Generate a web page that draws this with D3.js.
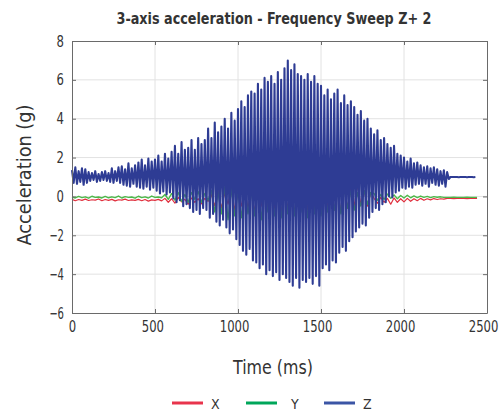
<!DOCTYPE html>
<html>
<head>
<meta charset="utf-8">
<script src="https://cdn.jsdelivr.net/npm/d3@7"></script>
<style>
  body { margin: 0; background: #fff; }
  text { font-family: "DejaVu Sans Condensed", "Roboto", sans-serif; }
</style>
</head>
<body>
<div id="plot"></div>
<script>
// sample steps (ms)
const zStep = 10;
const xyStep = 20;

// Z axis peaks, alternating high / low (10 ms apart)
const zValues = [
  1.35,0.7,1.5,0.65,1.3,0.75,1.45,0.6,1.4,0.7,
  1.25,0.8,1.2,0.85,1.3,0.75,1.15,0.8,1.25,0.85,
  1.3,0.8,1.2,0.75,1.45,0.7,1.3,0.8,1.5,0.7,
  1.55,0.6,1.4,0.55,1.7,0.5,1.45,0.65,1.6,0.5,
  1.75,0.45,1.9,0.4,1.6,0.5,1.95,0.35,1.8,0.45,
  1.9,0.3,2.1,0.15,1.8,0.25,2.2,0.1,1.95,0.2,
  2.3,-0.1,2.6,-0.3,2.2,-0.2,2.8,-0.5,2.4,-0.4,
  2.5,-0.6,2.9,-0.8,2.4,-0.7,3.0,-0.9,2.7,-0.6,
  2.9,-0.7,3.5,-1.1,3.0,-0.9,3.8,-1.3,3.3,-1.5,
  3.6,-1.2,4.0,-1.6,3.5,-1.9,4.3,-1.7,3.9,-2.2,
  4.5,-2.5,4.9,-2.8,4.6,-3.0,5.2,-2.7,5.4,-3.3,
  5.3,-3.4,5.8,-3.7,5.5,-3.5,6.1,-4.0,5.9,-3.8,
  6.2,-4.1,5.8,-3.9,6.4,-4.3,6.0,-4.0,6.6,-4.2,
  7.0,-4.4,6.5,-4.6,6.8,-4.2,6.3,-4.7,6.2,-4.3,
  6.0,-4.4,6.3,-4.2,5.9,-4.5,6.2,-4.1,5.8,-4.6,
  5.7,-3.7,5.2,-3.5,5.5,-3.8,5.0,-3.3,5.3,-3.4,
  5.5,-2.9,4.8,-2.6,5.2,-2.8,4.7,-2.3,4.9,-2.1,
  4.6,-1.8,4.2,-1.6,4.4,-1.4,3.9,-1.5,4.0,-1.1,
  3.5,-0.8,3.2,-0.6,3.4,-0.7,2.9,-0.4,3.0,-0.3,
  2.7,0.0,2.5,-0.05,2.6,0.2,2.2,0.3,2.1,0.45,
  2.0,0.4,1.8,0.5,1.95,0.45,1.7,0.6,1.75,0.65,
  1.6,0.55,1.5,0.65,1.55,0.5,1.45,0.7,1.5,0.6,
  1.4,0.55,1.3,0.65,1.35,0.5,1.25,0.9,1.0,1.0,
  1.0,1.0,1.0,0.99,1.0,1.0,1.0,1.0,0.99,1.0,
  1.0,1.0,0.99,1.0
];

// X axis (20 ms apart)
const xValues = [
  -0.15,-0.22,-0.16,-0.2,-0.14,-0.21,-0.17,-0.19,-0.13,-0.22,
  -0.16,-0.2,-0.15,-0.23,-0.17,-0.19,-0.14,-0.21,-0.18,-0.2,
  -0.15,-0.22,-0.16,-0.24,-0.18,-0.2,-0.15,-0.23,
  -0.1,-0.3,-0.12,-0.35,-0.05,-0.28,-0.15,-0.4,-0.08,-0.3,-0.12,-0.38,-0.1,-0.25,
  0.1,-0.5,0.3,-0.6,0.2,-0.4,0.5,-0.7,0.2,-0.5,
  0.4,-0.6,0.3,-0.8,0.6,-0.5,1.0,-0.7,0.4,-0.6,
  0.5,-0.8,0.3,-0.6,0.7,-0.9,0.4,-0.5,0.6,-0.7,
  0.3,-0.6,0.5,-0.8,1.2,-0.6,0.4,-0.7,0.3,-0.8,
  0.5,-0.6,0.4,-0.5,0.6,-0.4,0.3,-0.5,0.2,
  -0.1,-0.35,-0.05,-0.3,-0.1,-0.4,-0.08,-0.3,-0.12,-0.28,-0.1,
  -0.25,-0.12,-0.22,-0.1,-0.2,-0.12,-0.18,-0.11,-0.16,-0.12,-0.14,
  -0.1,-0.1,-0.11,-0.1,-0.1,-0.1,-0.11,-0.1,-0.1,-0.1
];

// Y axis (20 ms apart)
const yValues = [
  -0.03,-0.08,0.0,-0.06,-0.02,-0.09,0.01,-0.05,-0.03,-0.08,
  0.0,-0.07,-0.02,-0.06,0.02,-0.08,-0.01,-0.05,-0.03,-0.09,
  0.01,-0.06,-0.02,-0.08,0.02,-0.05,-0.03,-0.07,
  0.1,-0.15,0.15,-0.2,0.2,-0.25,0.1,-0.3,0.2,-0.15,0.25,-0.3,0.15,-0.2,
  0.3,-0.8,0.2,-0.9,0.5,-1.2,0.4,-1.0,0.3,-1.1,
  0.5,-0.9,0.3,-1.0,0.6,-1.2,0.4,-0.8,0.3,-1.0,
  0.5,-1.1,0.4,-0.9,1.3,-1.0,0.3,-0.8,0.5,-1.1,
  0.4,-0.9,0.6,-1.0,0.3,-0.8,0.5,-0.7,0.3,-0.9,
  0.4,-0.6,0.3,-0.7,0.2,-0.5,0.3,-0.4,0.2,
  0.15,-0.2,0.1,-0.15,0.12,-0.1,0.08,-0.12,0.05,-0.08,0.06,
  -0.07,0.03,-0.06,0.02,-0.05,0.0,-0.06,-0.01,-0.04,-0.02,-0.05,
  -0.05,-0.05,-0.04,-0.05,-0.05,-0.05,-0.04,-0.05,-0.05,-0.05
];

const xTicks = [0, 500, 1000, 1500, 2000, 2500];
const yTicks = [-6, -4, -2, 0, 2, 4, 6, 8];
const seriesNames = ["X", "Y", "Z"];
const lineColors = {X: "#e0303e", Y: "#4cb848", Z: "#2e3c94"};
const legendColors = {X: "#e8344c", Y: "#00a65a", Z: "#3b55a5"};

// canvas
const width = 502;
const height = 411;
const margin = {top: 41, right: 15, bottom: 98, left: 72};

const svg = d3.select("#plot").append("svg")
    .attr("width", width)
    .attr("height", height);

// scales
const xScale = d3.scaleLinear().domain([0, 2500]).range([margin.left, width - margin.right]);
const yScale = d3.scaleLinear().domain([-6, 8]).range([height - margin.bottom, margin.top]);

// grid
svg.append("g").selectAll("line").data(xTicks.slice(1, -1)).enter().append("line")
    .attr("x1", d => xScale(d)).attr("x2", d => xScale(d))
    .attr("y1", yScale(8)).attr("y2", yScale(-6))
    .attr("stroke", "#e2e2e2");
svg.append("g").selectAll("line").data(yTicks.slice(1, -1)).enter().append("line")
    .attr("x1", xScale(0)).attr("x2", xScale(2500))
    .attr("y1", d => yScale(d)).attr("y2", d => yScale(d))
    .attr("stroke", "#e2e2e2");

// lines
const toPoints = (vals, step) => vals.map((v, i) => [i * step, v]);
const line = d3.line().x(d => xScale(d[0])).y(d => yScale(d[1]));
const seriesData = {X: toPoints(xValues, xyStep), Y: toPoints(yValues, xyStep), Z: toPoints(zValues, zStep)};
const strokeWidths = {X: 1.2, Y: 1.4, Z: 2.1};

seriesNames.forEach(name => {
    svg.append("path")
        .datum(seriesData[name])
        .attr("fill", "none")
        .attr("stroke", lineColors[name])
        .attr("stroke-width", strokeWidths[name])
        .attr("stroke-linejoin", "round")
        .attr("d", line);
});

// axes (box with inward ticks)
const fmt = d3.format("d");
const xAxis = d3.axisBottom(xScale).tickValues(xTicks).tickFormat(fmt).tickSizeInner(-4).tickSizeOuter(0).tickPadding(8);
const yAxis = d3.axisLeft(yScale).tickValues(yTicks).tickFormat(fmt).tickSizeInner(-4).tickSizeOuter(0).tickPadding(8);
const gx = svg.append("g").attr("transform", `translate(0, ${height - margin.bottom})`).call(xAxis);
svg.append("g").attr("transform", `translate(${margin.left}, 0)`).call(yAxis);
svg.append("g").attr("transform", `translate(0, ${margin.top})`)
    .call(d3.axisTop(xScale).tickValues(xTicks).tickSizeInner(-4).tickSizeOuter(0).tickFormat(""));
svg.append("g").attr("transform", `translate(${width - margin.right}, 0)`)
    .call(d3.axisRight(yScale).tickValues(yTicks).tickSizeInner(-4).tickSizeOuter(0).tickFormat(""));
svg.selectAll(".domain, .tick line").attr("stroke", "#6a6a6a");
// narrow digits like the original condensed face
svg.selectAll(".tick text")
    .attr("font-size", 16).attr("fill", "#333")
    .attr("textLength", function () { return this.textContent.length * 7.4; })
    .attr("lengthAdjust", "spacingAndGlyphs");
gx.selectAll(".tick text")
    .attr("dx", function () { return -(this.textContent.length - 1) * 1.3; });

// labels
svg.append("text")
    .attr("x", 274).attr("y", 24)
    .attr("text-anchor", "middle")
    .attr("font-size", 15).attr("font-weight", "bold").attr("fill", "#333")
    .attr("textLength", 315).attr("lengthAdjust", "spacingAndGlyphs")
    .text("3-axis acceleration - Frequency Sweep Z+ 2");

svg.append("text")
    .attr("x", 273).attr("y", 374)
    .attr("text-anchor", "middle")
    .attr("font-size", 19).attr("fill", "#333")
    .attr("textLength", 80).attr("lengthAdjust", "spacingAndGlyphs")
    .text("Time (ms)");

svg.append("text")
    .attr("transform", "translate(31, 175) rotate(-90)")
    .attr("text-anchor", "middle")
    .attr("font-size", 19).attr("fill", "#333")
    .attr("textLength", 141).attr("lengthAdjust", "spacingAndGlyphs")
    .text("Acceleration (g)");

// legend
const legendX = [172, 246, 324];
const legend = svg.append("g");
seriesNames.forEach((name, i) => {
    legend.append("line")
        .attr("x1", legendX[i]).attr("x2", legendX[i] + 31)
        .attr("y1", 403).attr("y2", 403)
        .attr("stroke", legendColors[name]).attr("stroke-width", 3);
    legend.append("text")
        .attr("x", legendX[i] + 39 + (i === 1 ? 6 : 0)).attr("y", 409)
        .attr("font-size", 14).attr("fill", "#333")
        .text(name);
});
</script>
</body>
</html>
